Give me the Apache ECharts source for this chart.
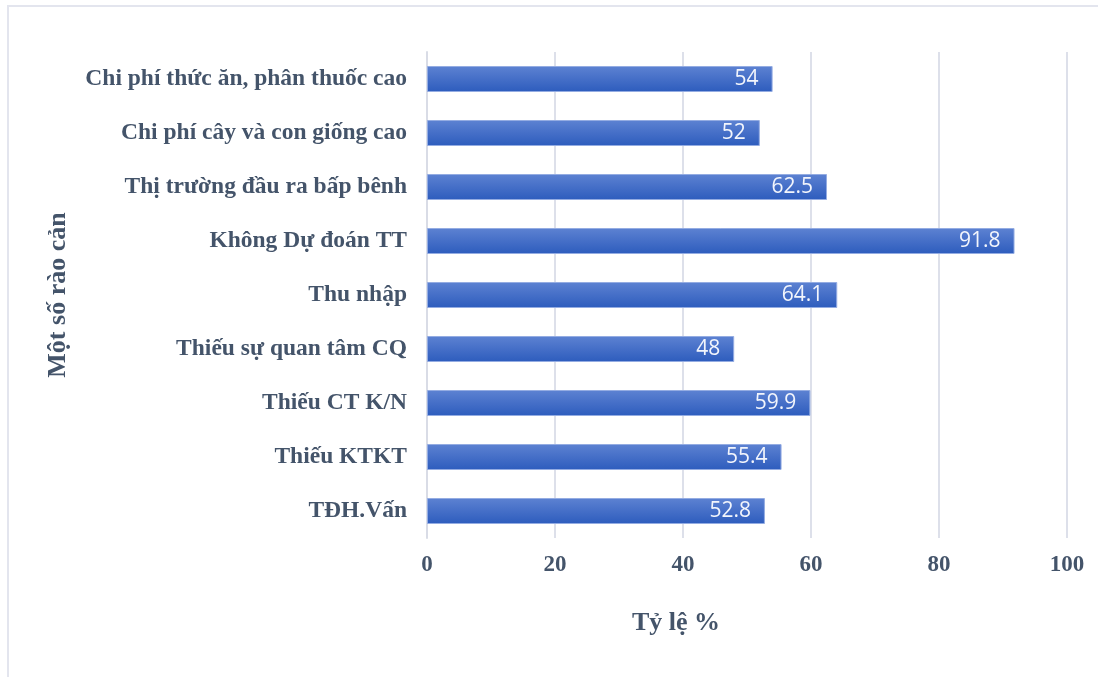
<!DOCTYPE html>
<html>
<head>
<meta charset="utf-8">
<script src="https://cdn.jsdelivr.net/npm/echarts@6/dist/echarts.min.js"></script>
<style>
  html, body { margin: 0; padding: 0; background: #ffffff; }
  #chart { width: 1098px; height: 677px; }
</style>
</head>
<body>
<div id="chart"></div>
<script>
// Barriers (top to bottom) and their share in percent
const categories = [
  'Chi phí thức ăn, phân thuốc cao',
  'Chi phí cây và con giống cao',
  'Thị trường đầu ra bấp bênh',
  'Không Dự đoán TT',
  'Thu nhập',
  'Thiếu sự quan tâm CQ',
  'Thiếu CT K/N',
  'Thiếu KTKT',
  'TĐH.Vấn'
];
const values = [54, 52, 62.5, 91.8, 64.1, 48, 59.9, 55.4, 52.8];
const xTicks = [0, 20, 40, 60, 80, 100];

const serif = '"Liberation Serif", "Times New Roman", serif';
const textColor = '#44546a';

const chart = echarts.init(document.getElementById('chart'), null, { renderer: 'canvas' });

chart.setOption({
  animation: false,
  backgroundColor: '#ffffff',
  graphic: [
    {
      type: 'polyline',
      shape: { points: [[8, 677], [8, 6], [1098, 6]] },
      style: { stroke: '#e3e5ee', lineWidth: 2, fill: null },
      silent: true
    }
  ],
  grid: { left: 427, right: 31, top: 52, bottom: 139 },
  xAxis: {
    type: 'value',
    min: xTicks[0],
    max: xTicks[xTicks.length - 1],
    interval: 20,
    name: 'Tỷ lệ %',
    nameLocation: 'middle',
    nameGap: 72,
    nameTextStyle: {
      fontFamily: serif, fontWeight: 'bold', fontSize: 26, color: textColor,
      padding: [0, 142, 0, 0]
    },
    axisLine: { show: false },
    axisTick: { show: false },
    axisLabel: { fontFamily: serif, fontWeight: 'bold', fontSize: 23, color: textColor, margin: 16 },
    splitLine: { show: true, lineStyle: { color: '#dde0ea', width: 2 } }
  },
  yAxis: {
    type: 'category',
    inverse: true,
    data: categories,
    name: 'Một số rào cản',
    nameLocation: 'middle',
    nameRotate: 90,
    nameGap: 356,
    nameTextStyle: { fontFamily: serif, fontWeight: 'bold', fontSize: 26, color: textColor },
    axisLine: { show: true, lineStyle: { color: '#d9dce6', width: 2 } },
    axisTick: { show: false },
    axisLabel: { fontFamily: serif, fontWeight: 'bold', fontSize: 23.5, color: textColor, margin: 20 }
  },
  series: [
    {
      type: 'bar',
      data: values,
      barWidth: 26,
      itemStyle: {
        color: new echarts.graphic.LinearGradient(0, 0, 0, 1, [
          { offset: 0, color: '#5d82d2' },
          { offset: 1, color: '#2d5cbd' }
        ]),
        borderColor: '#94ace2',
        borderWidth: 1
      },
      label: {
        show: true,
        position: 'insideRight',
        distance: 14,
        color: '#f2f5fc',
        fontFamily: '"Open Sans", "Noto Sans", sans-serif',
        fontSize: 21,
        formatter: p => String(p.value)
      }
    }
  ]
});
</script>
</body>
</html>
